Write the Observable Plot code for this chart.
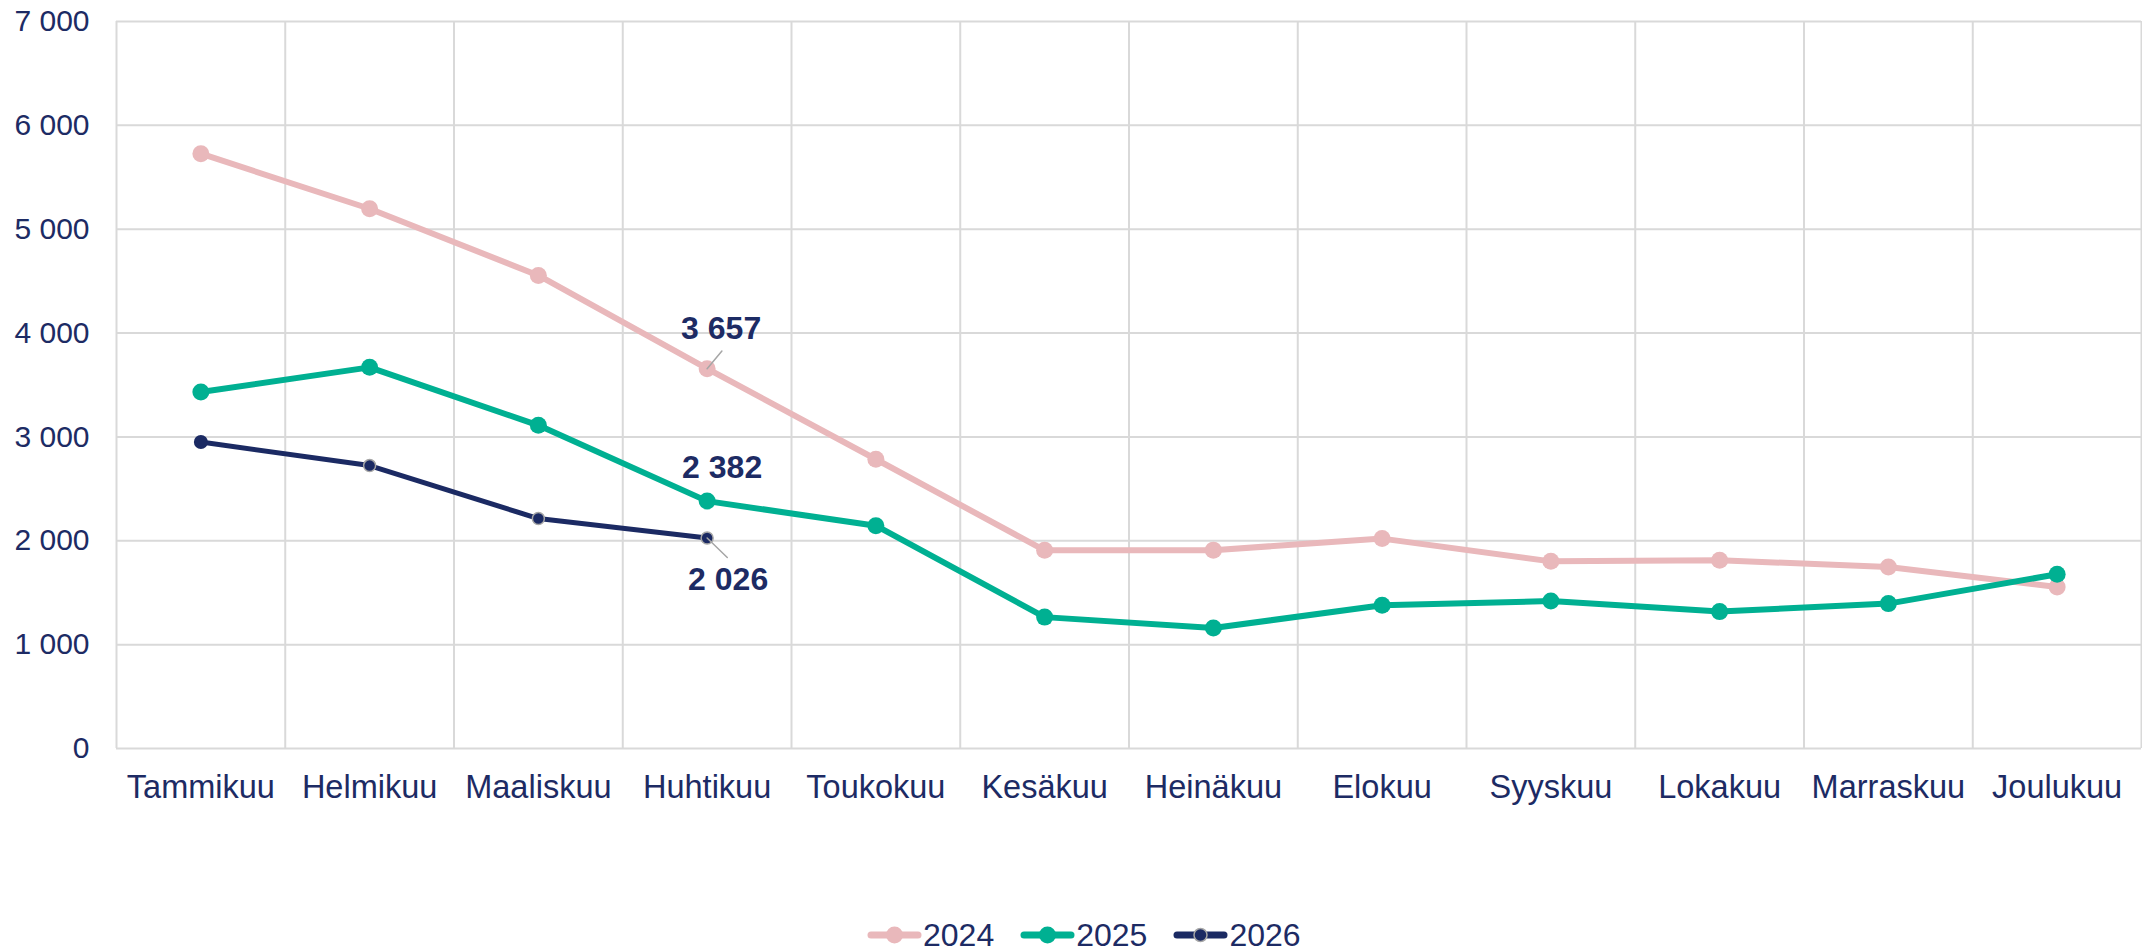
<!DOCTYPE html>
<html>
<head>
<meta charset="utf-8">
<script src="https://cdn.jsdelivr.net/npm/d3@7"></script>
<script src="https://cdn.jsdelivr.net/npm/@observablehq/plot@0.6"></script>
<style>
  html, body { margin: 0; padding: 0; background: #ffffff; }
  body { font-family: "Liberation Sans", Arial, sans-serif; width: 2142px; height: 949px; position: relative; overflow: hidden; }
  #legend { position: absolute; top: 917px; left: 867px; height: 36px; display: flex; align-items: center; font-size: 32px; color: #1d2b64; }
  .item { display: flex; align-items: center; margin-right: 26px; }
  .item svg { display: block; margin-right: 1px; }
</style>
</head>
<body>
<div id="chart"></div>
<div id="legend"></div>
<script>
const months = ["Tammikuu","Helmikuu","Maaliskuu","Huhtikuu","Toukokuu","Kesäkuu","Heinäkuu","Elokuu","Syyskuu","Lokakuu","Marraskuu","Joulukuu"];
const years = ["2024","2025","2026"];
const v2024 = [5727,5197,4555,3657,2785,1908,1910,2021,1802,1812,1748,1555];
const v2025 = [3432,3670,3112,2382,2145,1265,1160,1379,1420,1318,1395,1678];
const v2026 = [2951,2724,2214,2026];
const yTicks = [0,1000,2000,3000,4000,5000,6000,7000];

const colors = {"2024": "#e9b8bb", "2025": "#00b092", "2026": "#1b2a63"};
const navy = "#1d2b64";
const grid = "#d9d9d9";

const fmt = v => d3.format(",")(v).replace(/,/g, " ");
const toRows = (vals, year) => vals.map((value, i) => ({i, month: months[i], year, value}));
const r2024 = toRows(v2024, "2024");
const r2025 = toRows(v2025, "2025");
const r2026 = toRows(v2026, "2026");
const boundaries = d3.range(months.length + 1).map(k => k - 0.5);

const noLine = {draw(context, l) { context.moveTo(0, 0); context.lineTo(0, -l); }};

const chart = Plot.plot({
  width: 2142,
  height: 880,
  marginLeft: 116,
  marginRight: 1,
  marginTop: 21,
  marginBottom: 132,
  style: {fontFamily: '"Liberation Sans", Arial, sans-serif', background: "#ffffff"},
  x: {type: "linear", domain: [-0.5, months.length - 0.5]},
  y: {domain: [0, 7000]},
  marks: [
    Plot.ruleY(yTicks, {stroke: grid, strokeWidth: 2}),
    Plot.ruleX(boundaries, {stroke: grid, strokeWidth: 2}),
    Plot.line(r2024, {x: "i", y: "value", stroke: colors["2024"], strokeWidth: 6}),
    Plot.dot(r2024, {x: "i", y: "value", fill: colors["2024"], r: 8.5}),
    Plot.line(r2025, {x: "i", y: "value", stroke: colors["2025"], strokeWidth: 6}),
    Plot.dot(r2025, {x: "i", y: "value", fill: colors["2025"], r: 8.5}),
    Plot.line(r2026, {x: "i", y: "value", stroke: colors["2026"], strokeWidth: 5}),
    Plot.dot(r2026.slice(0, 1), {x: "i", y: "value", fill: colors["2026"], r: 7}),
    Plot.dot(r2026.slice(1), {x: "i", y: "value", fill: colors["2026"], stroke: "#a6a6a6", strokeWidth: 1.5, r: 6}),
    // leader lines
    Plot.vector([r2024[3]], {x: "i", y: "value", length: 23, rotate: 40, anchor: "start", shape: noLine, stroke: "#a6a6a6", strokeWidth: 1.5}),
    Plot.vector([r2026[3]], {x: "i", y: "value", length: 28, rotate: 134, anchor: "start", shape: noLine, stroke: "#a6a6a6", strokeWidth: 1.5}),
    // data labels
    Plot.text([r2024[3]], {x: "i", y: "value", text: d => fmt(d.value), dx: 14, dy: -40, fontSize: 32, fontWeight: "bold", fill: navy}),
    Plot.text([r2025[3]], {x: "i", y: "value", text: d => fmt(d.value), dx: 15, dy: -33, fontSize: 32, fontWeight: "bold", fill: navy}),
    Plot.text([r2026[3]], {x: "i", y: "value", text: d => fmt(d.value), dx: 21, dy: 42, fontSize: 32, fontWeight: "bold", fill: navy}),
    Plot.axisY(yTicks, {tickSize: 0, tickPadding: 27, fontSize: 30, fill: navy, tickFormat: fmt, label: null}),
    Plot.axisX(d3.range(months.length), {tickSize: 0, tickPadding: 26, fontSize: 32.5, fill: navy, tickFormat: i => months[i], label: null})
  ]
});
document.getElementById("chart").appendChild(chart);

// legend
const legend = d3.select("#legend");
years.forEach(y => {
  const item = legend.append("div").attr("class", "item");
  const svg = item.append("svg").attr("width", 55).attr("height", 22);
  svg.append("line").attr("x1", 4).attr("x2", 51).attr("y1", 11).attr("y2", 11)
    .attr("stroke", colors[y]).attr("stroke-width", 7).attr("stroke-linecap", "round");
  const c = svg.append("circle").attr("cx", 27.5).attr("cy", 11).attr("fill", colors[y]);
  if (y === "2026") c.attr("r", 6.5).attr("stroke", "#a6a6a6").attr("stroke-width", 1.5);
  else c.attr("r", 8.5);
  item.append("span").text(y);
});
</script>
</body>
</html>
